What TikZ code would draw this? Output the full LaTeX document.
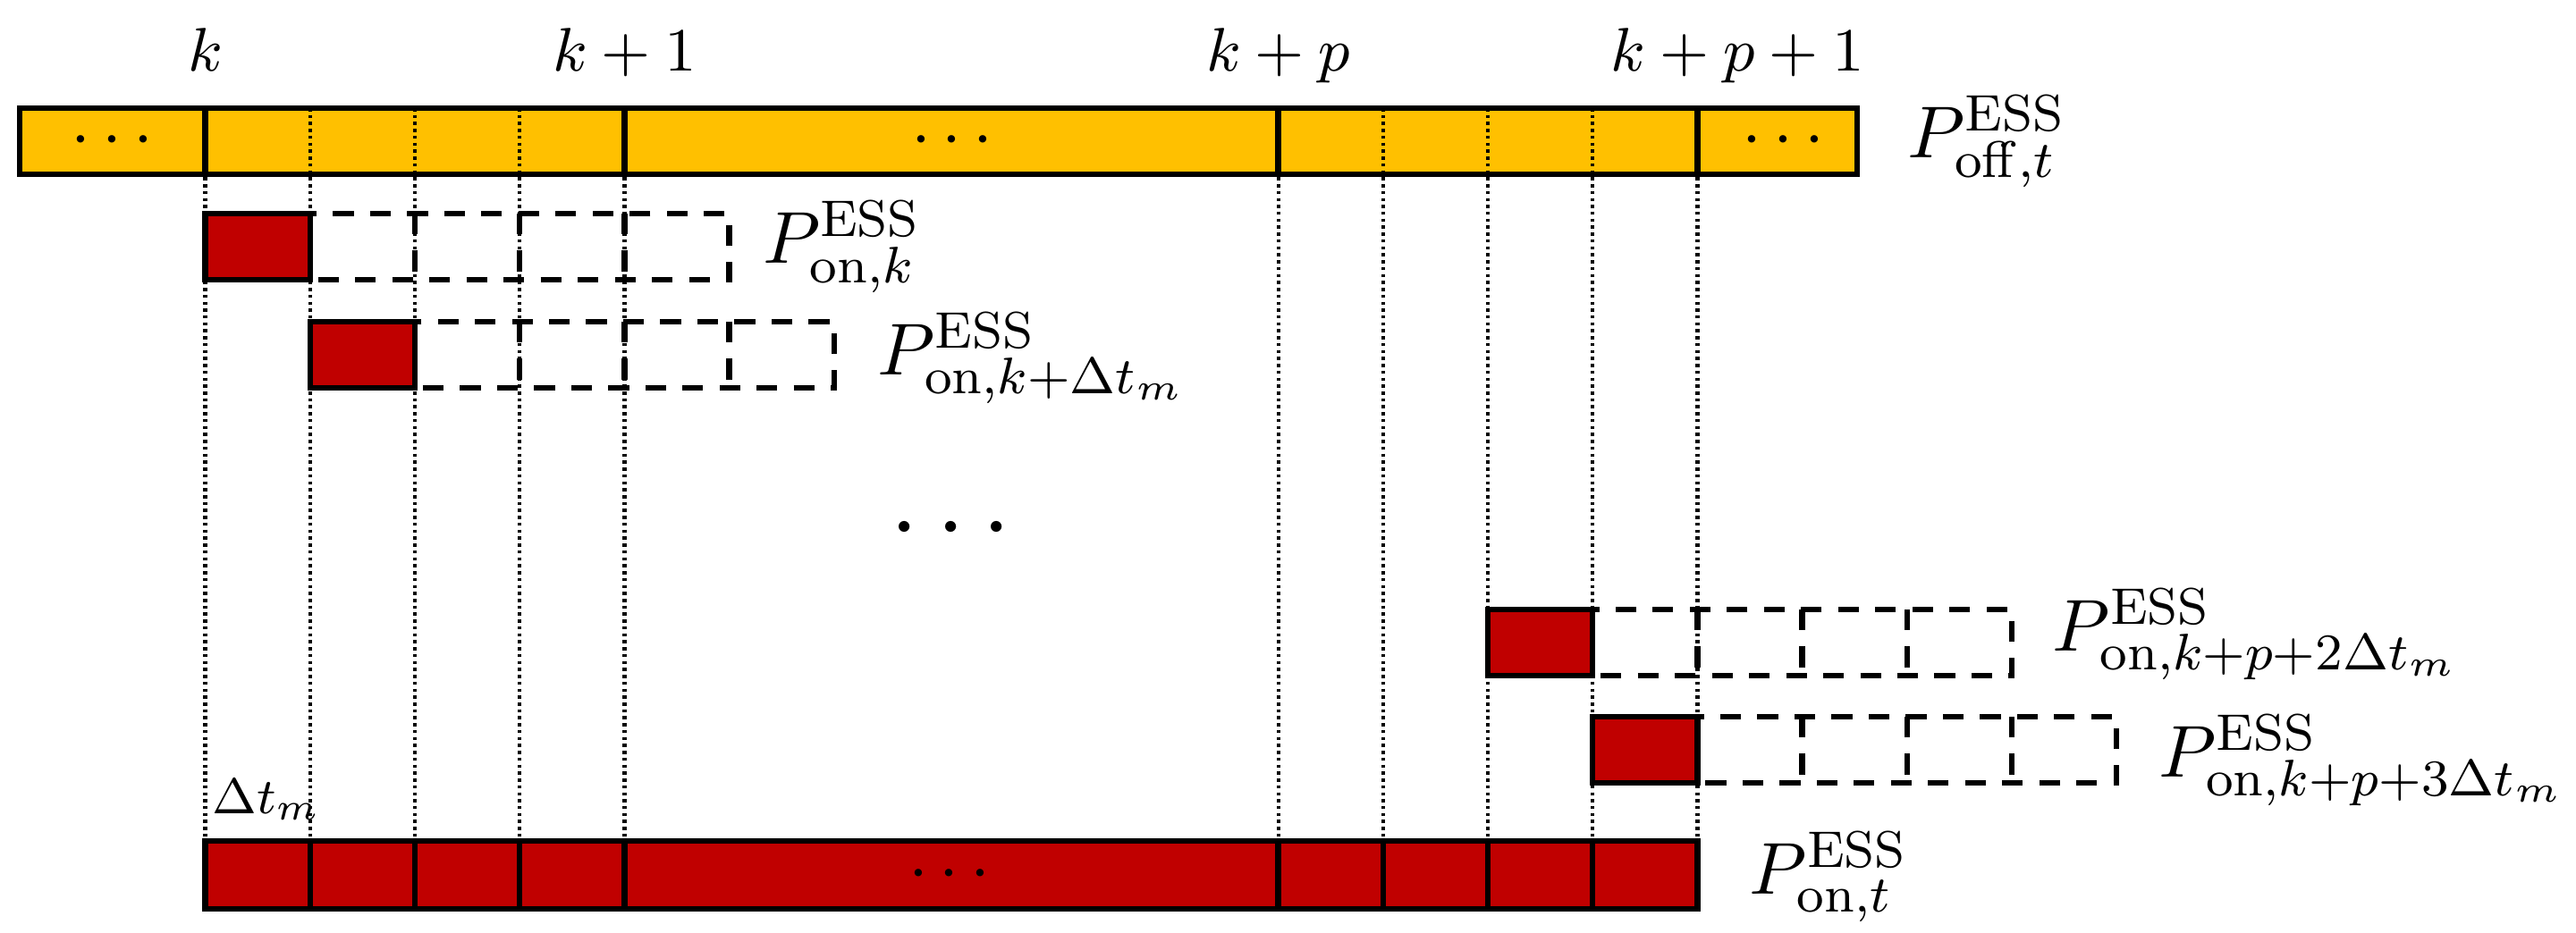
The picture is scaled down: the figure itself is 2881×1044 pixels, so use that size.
\RequirePackage{fix-cm}
\documentclass[tikz,border=0pt]{standalone}
\definecolor{offyellow}{HTML}{FFC000}
\definecolor{onred}{HTML}{C00000}
\tikzset{
  thickline/.style={line width=0.9pt},
  oncell/.style={thickline, fill=onred, draw=black},
  dashbox/.style={thickline, dash pattern=on 3.3pt off 2.6pt},
  gridline/.style={line width=0.6pt, dash pattern=on 0.5pt off 0.6pt},
  klab/.style={anchor=base, inner sep=0pt, font=\fontsize{9.8}{12}\selectfont},
  plab/.style={anchor=west, inner sep=0pt, font=\fontsize{11.7}{14}\selectfont},
  dotslab/.style={anchor=base, inner sep=0pt, font=\fontsize{11.2}{13}\selectfont},
  bigdots/.style={anchor=base, inner sep=0pt, font=\fontsize{16.5}{19}\selectfont},
  dtlab/.style={anchor=base west, inner sep=0pt, font=\fontsize{8}{10}\selectfont},
}
\begin{document}
\begin{tikzpicture}[x=0.05mm, y=-0.05mm]
\useasboundingbox (0,0) rectangle (2881,1044);
% grid x positions
\def\gA{229.6}\def\gB{346.8}\def\gC{464}\def\gD{581.2}\def\gE{698.4}\def\gF{815.6}\def\gG{932.8}
\def\hA{1429.6}\def\hB{1546.8}\def\hC{1664}\def\hD{1781.2}\def\hE{1898.4}\def\hF{2015.6}\def\hG{2132.8}\def\hH{2250}\def\hI{2367.2}

% top bar fill
\fill[offyellow] (22,121) rectangle (2077,195);
% dotted grid lines
\foreach \x in {\gA,\gB,\gC,\gD,\gE,\hA,\hB,\hC,\hD,\hE}
  \draw[gridline] (\x,121) -- (\x,941);
% top bar outline and solid dividers
\draw[thickline] (22,121) rectangle (2077,195);
\foreach \x in {\gA,\gE,\hA,\hE}
  \draw[thickline] (\x,121) -- (\x,195);
\node[dotslab] (d1) at (125.6,175.3) {$\cdots$};
\node[dotslab] (d2) at (1065,175.3) {$\cdots$};
\node[dotslab] (d3) at (1994.8,175.3) {$\cdots$};

% time labels
\node[klab] (lk) at (\gA,80) {$k$};
\node[klab] (lk1) at (\gE,80) {$k+1$};
\node[klab] (lkp) at (\hA,80) {$k+p$};
\node[klab] (lkp1) at (1943,80) {$k+p+1$};
\node[plab] (poff) at (2132,158.5) {$P^{\mathrm{ESS}}_{\mathrm{off},t}$};

% row 1
\draw[dashbox] (\gB,239) rectangle (\gF,313);
\foreach \x in {\gC,\gD,\gE} \draw[dashbox] (\x,239) -- (\x,313);
\draw[oncell] (\gA,239) rectangle (\gB,313);
\node[plab] (p1) at (851.7,276.5) {$P^{\mathrm{ESS}}_{\mathrm{on},k}$};

% row 2
\draw[dashbox] (\gC,360) rectangle (\gG,434);
\foreach \x in {\gD,\gE,\gF} \draw[dashbox] (\x,360) -- (\x,434);
\draw[oncell] (\gB,360) rectangle (\gC,434);
\node[plab] (p2) at (980,401) {$P^{\mathrm{ESS}}_{\mathrm{on},k+\Delta t_m}$};

% middle dots
\node[bigdots] (dmid) at (1063.3,618.5) {$\cdots$};

% row 3
\draw[dashbox] (\hD,682) rectangle (\hH,756);
\foreach \x in {\hE,\hF,\hG} \draw[dashbox] (\x,682) -- (\x,756);
\draw[oncell] (\hC,682) rectangle (\hD,756);
\node[plab] (p3) at (2294.4,710) {$P^{\mathrm{ESS}}_{\mathrm{on},k+p+2\Delta t_m}$};

% row 4
\draw[dashbox] (\hE,802) rectangle (\hI,876);
\foreach \x in {\hF,\hG,\hH} \draw[dashbox] (\x,802) -- (\x,876);
\draw[oncell] (\hD,802) rectangle (\hE,876);
\node[plab] (p4) at (2413,851) {$P^{\mathrm{ESS}}_{\mathrm{on},k+p+3\Delta t_m}$};

% bottom bar
\draw[oncell] (\gA,941) rectangle (\hE,1017);
\foreach \x in {\gB,\gC,\gD,\gE,\hA,\hB,\hC,\hD}
  \draw[thickline] (\x,941) -- (\x,1017);
\node[dotslab] (d4) at (1062,996) {$\cdots$};
\node[dtlab] (dt) at (236,910) {$\Delta t_m$};
\node[plab] (pon) at (1955.4,981.5) {$P^{\mathrm{ESS}}_{\mathrm{on},t}$};
\end{tikzpicture}
\end{document}
